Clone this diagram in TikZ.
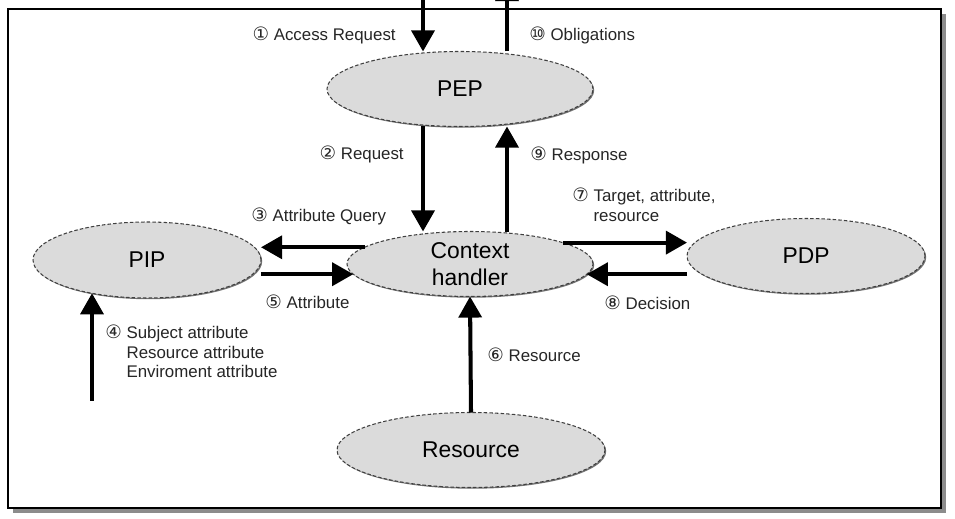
\documentclass[tikz,border=0pt]{standalone}
\usepackage{fontspec}
\setmainfont{Liberation Sans}
\newfontfamily\symfont{DejaVu Sans}
\usetikzlibrary{shapes.geometric,arrows.meta,shadows}
\newcommand{\markno}[1]{{\symfont\fontsize{10.5}{11}\selectfont #1}}

\begin{document}
\begin{tikzpicture}[x=0.02cm, y=-0.02cm,
		entity/.style={ellipse, draw=black!75, dash pattern=on 2pt off 1.2pt, line width=0.6pt, fill=black!14, inner sep=0pt, outer sep=0pt, align=center, font=\fontsize{13}{15.5}\selectfont, drop shadow={shadow xshift=0.7pt, shadow yshift=-0.7pt, fill=black!55, opacity=1}},
		flow/.style={line width=2.3pt, -{Triangle[length=12pt, width=13pt]}},
		lbl/.style={inner sep=0pt, text=black!85, font=\fontsize{9.6}{11}\selectfont}]
		\useasboundingbox (0,0) rectangle (955,519);
		\fill [black!45] (13,14) rectangle (946,513);
		\draw [line width=1.4pt, fill=white] (8,9) rectangle (941,508);

		\node (pep) [entity, minimum width=5.32cm, minimum height=1.5cm] at (460,89) {PEP};
		\node (context) [entity, minimum width=4.92cm, minimum height=1.3cm] at (470,264) {Context\\handler};
		\node (pip) [entity, minimum width=4.56cm, minimum height=1.52cm] at (147,260) {PIP};
		\node (pdp) [entity, minimum width=4.76cm, minimum height=1.5cm] at (806,256) {PDP};
		\node (resource) [entity, minimum width=5.36cm, minimum height=1.5cm] at (471,450) {Resource};

		\coordinate (reqin) at (423,-25);
		\coordinate (oblout) at (507,-20);
		\coordinate (envin) at (92,401);

		\draw [flow] (reqin) -- (reqin |- pep.north);
		\draw [flow] (oblout |- pep.north) -- (oblout);
		\draw [flow] (reqin |- pep.south) -- (reqin |- context.north);
		\draw [flow] (oblout |- context.north) -- (oblout |- pep.south);
		\draw [flow] (context.171) -- (context.171 -| pip.east);
		\draw [flow] (context.185 -| pip.east) -- (context.185);
		\draw [flow] (context.13) -- (context.13 -| pdp.west);
		\draw [flow] (context.355 -| pdp.west) -- (context.355);
		\draw [flow] (resource.north) -- (context.south);
		\draw [flow] (envin) -- (envin |- pip.211);

		\node (l1) [lbl, anchor=east] at (396,35) {\markno{①} Access Request};
		\node (l10) [lbl, anchor=west] at (529,35) {\markno{⑩} Obligations};
		\node (l2) [lbl, anchor=east] at (404,154) {\markno{②} Request};
		\node (l9) [lbl, anchor=west] at (530,155) {\markno{⑨} Response};
		\node (l3) [lbl, anchor=west] at (251,216) {\markno{③} Attribute Query};
		\node (l5) [lbl, anchor=west] at (265,302) {\markno{⑤} Attribute};
		\node (l4) [lbl, anchor=north west, align=left] at (105,325) {\markno{④} Subject attribute\\\phantom{\markno{④} }Resource attribute\\\phantom{\markno{④} }Enviroment attribute};
		\node (l6) [lbl, anchor=west] at (487,355) {\markno{⑥} Resource};
		\node (l7) [lbl, anchor=north west, align=left] at (572,188) {\markno{⑦} Target, attribute,\\\phantom{\markno{⑦} }resource};
		\node (l8) [lbl, anchor=west] at (604,303) {\markno{⑧} Decision};
	\end{tikzpicture}
\end{document}
